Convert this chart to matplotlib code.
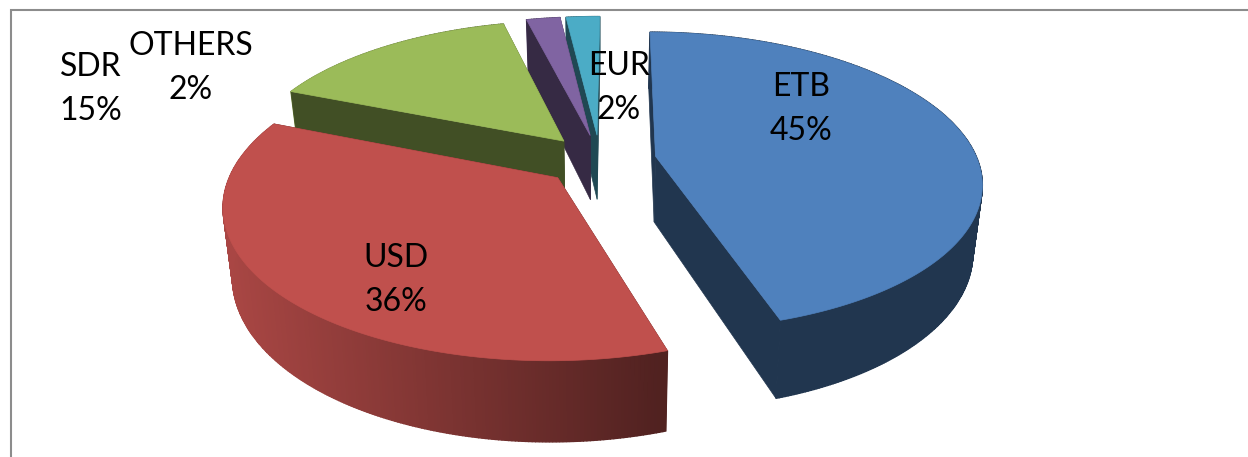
import numpy as np
import matplotlib
matplotlib.use("Agg")
import matplotlib.pyplot as plt

# Slices clockwise from the top
names = ["ETB", "USD", "SDR", "OTHERS", "EUR"]
shares = [45, 36, 15, 2, 2]
top_colors = ["#4f81bd", "#c0504d", "#9bbb59", "#8064a2", "#4bacc6"]

# Where each label is centred, pixels
label_x = [801, 396, 91, 191, 619]
label_y = [109, 280, 89, 68, 88]

# 3D pie projection, pixels
CX, CY = 600, 160
RX, RY = 322, 146
PERSP = 1 / 6
DEPTH = 66
EXPLODE = 0.175
START = 0.5


def project(px, py):
    w = 1 - PERSP * py
    return CX + RX * px / w, CY + RY * py / w, DEPTH / w


def slice_rim(a0, a1):
    mid = np.radians((a0 + a1) / 2)
    ox, oy = EXPLODE * np.sin(mid), -EXPLODE * np.cos(mid)
    t = np.radians(np.linspace(a0, a1, max(int(a1 - a0) * 2, 8)))
    x, y, d = project(ox + np.sin(t), oy - np.cos(t))
    ax0, ay0, ad0 = project(ox, oy)
    return x, y, d, ax0, ay0, ad0


def lower(x, d):
    # the bottom face sits a bit further from the camera
    return CX + (x - CX) * 0.975, d


def shade(color, x):
    f = np.clip(0.88 - (x - 225) / (660 - 225) * 0.46, 0.42, 0.88)
    return tuple(c * f for c in matplotlib.colors.to_rgb(color))


fig = plt.figure(figsize=(12.48, 4.57), dpi=100)
ax = fig.add_axes([0, 0, 1, 1])
ax.set_xlim(0, 1248)
ax.set_ylim(457, 0)
ax.axis("off")

# chart frame, only top and left show
ax.plot([1248, 11, 11], [9.5, 9.5, 457], color="#8c8c8c", lw=1.5, solid_joinstyle="miter")

angles = START + np.cumsum([0] + shares) * 3.6
order = [4, 3, 2, 1, 0]  # back to front

for i in order:
    a0, a1 = angles[i], angles[i + 1]
    color = top_colors[i]
    x, y, d, ax0, ay0, ad0 = slice_rim(a0, a1)
    xb, db = lower(x, d)
    z = 2 + order.index(i)

    def wall(front):
        # outer wall, in thin strips so the shading runs across it
        for j in range(len(x) - 1):
            if ((y[j] + y[j + 1]) / 2 > ay0) == front:
                ax.fill([x[j], x[j + 1], xb[j + 1], xb[j]],
                        [y[j], y[j + 1], y[j + 1] + db[j + 1], y[j] + db[j]],
                        color=shade(color, (x[j] + x[j + 1]) / 2), lw=1, zorder=z)

    wall(False)
    # two cut faces go between the back and front of the wall
    cut = shade(color, 1000)
    for j in [0, -1]:
        ax.fill([ax0, x[j], xb[j], lower(ax0, ad0)[0]],
                [ay0, y[j], y[j] + db[j], ay0 + ad0],
                color=cut, lw=0.5, zorder=z)
    wall(True)

    # top face
    ax.fill(np.r_[ax0, x], np.r_[ay0, y], color=color, lw=0.5, zorder=z + 0.5)

for name, share, lx, ly in zip(names, shares, label_x, label_y):
    ax.text(lx, ly, f"{name}\n{share}%", ha="center", va="center", fontsize=23,
            family="Lato", color="black", linespacing=1.55, zorder=20)

fig.savefig("out.png", dpi=100)
